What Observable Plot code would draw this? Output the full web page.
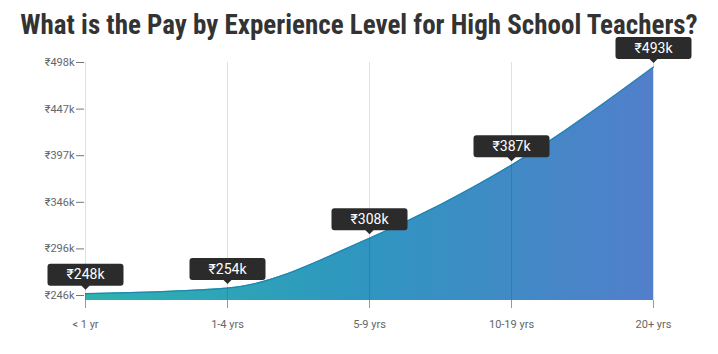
<!DOCTYPE html>
<html>
<head>
<meta charset="utf-8">
<script src="https://cdn.jsdelivr.net/npm/d3@7"></script>
<script src="https://cdn.jsdelivr.net/npm/@observablehq/plot@0.6"></script>
<style>
  html, body { margin: 0; padding: 0; background: #fff; }
  #title {
    width: 718px; height: 45px; line-height: 50px; text-align: center; overflow: visible;
    font-family: "Roboto Condensed", "Liberation Sans Narrow", Roboto, sans-serif;
    font-weight: 700; font-size: 27px; color: #333; white-space: nowrap;
  }
  #chart svg { display: block; overflow: visible; }
</style>
</head>
<body>
<div id="title">What is the Pay by Experience Level for High School Teachers?</div>
<div id="chart"></div>
<script>
const categories = ["< 1 yr", "1-4 yrs", "5-9 yrs", "10-19 yrs", "20+ yrs"];
const values = [248, 254, 308, 387, 493];
const valueLabels = ["₹248k", "₹254k", "₹308k", "₹387k", "₹493k"];
const yTicks = [246, 296.4, 346.8, 397.2, 447.6, 498];
const yTickLabels = ["₹246k", "₹296k", "₹346k", "₹397k", "₹447k", "₹498k"];
const yDomain = [240.6, 498];

const data = categories.map((c, i) => ({cat: c, value: values[i], label: valueLabels[i]}));

const tipSymbol = {
  draw(ctx) {
    const w = 38, top = -30, bot = -8, r = 3;
    ctx.moveTo(-w + r, top);
    ctx.lineTo(w - r, top);
    ctx.arcTo(w, top, w, top + r, r);
    ctx.lineTo(w, bot - r);
    ctx.arcTo(w, bot, w - r, bot, r);
    ctx.lineTo(4, bot);
    ctx.lineTo(0, bot + 4);
    ctx.lineTo(-4, bot);
    ctx.lineTo(-w + r, bot);
    ctx.arcTo(-w, bot, -w, bot - r, r);
    ctx.lineTo(-w, top + r);
    ctx.arcTo(-w, top, -w + r, top, r);
    ctx.closePath();
  }
};

const plot = Plot.plot({
  width: 718,
  height: 309,
  marginTop: 17,
  marginBottom: 54,
  marginLeft: 84,
  marginRight: 64,
  style: {fontFamily: "Roboto, sans-serif", fontSize: "11px", color: "#666", background: "transparent"},
  x: {type: "point", domain: categories, padding: 0, label: null},
  y: {domain: yDomain, label: null},
  marks: [
    Plot.areaY(data, {x: "cat", y: "value", curve: "monotone-x", fill: "url(#payGrad)", clip: true}),
    Plot.lineY(data, {x: "cat", y: "value", curve: "monotone-x", stroke: "#1f86b2", strokeWidth: 1.2}),
    Plot.gridX({stroke: "#000", strokeOpacity: 0.12}),
    Plot.axisY({ticks: yTicks, tickFormat: (d, i) => yTickLabels[i], tickSize: 8, tickPadding: 2, stroke: "#777", fill: "#666", fontSize: 11, label: null}),
    Plot.axisX({tickSize: 8, tickPadding: 12, stroke: "#999", fill: "#666", fontSize: 11, label: null}),
    Plot.dot(data, {x: "cat", y: "value", symbol: tipSymbol, fill: "#2b2b2b", stroke: "none"}),
    Plot.text(data, {x: "cat", y: "value", text: "label", dy: -19, fill: "#fff", fontSize: 14, fontFamily: "Roboto, sans-serif"})
  ]
});

const svg = d3.select(plot);
const defs = svg.insert("defs", ":first-child");
const grad = defs.append("linearGradient").attr("id", "payGrad").attr("x1", "0").attr("x2", "1").attr("y1", "0").attr("y2", "0");
grad.append("stop").attr("offset", "0").attr("stop-color", "#2db3ae");
grad.append("stop").attr("offset", "0.5").attr("stop-color", "#2f95c0");
grad.append("stop").attr("offset", "1").attr("stop-color", "#527fcb");

document.getElementById("chart").appendChild(plot);
</script>
</body>
</html>
